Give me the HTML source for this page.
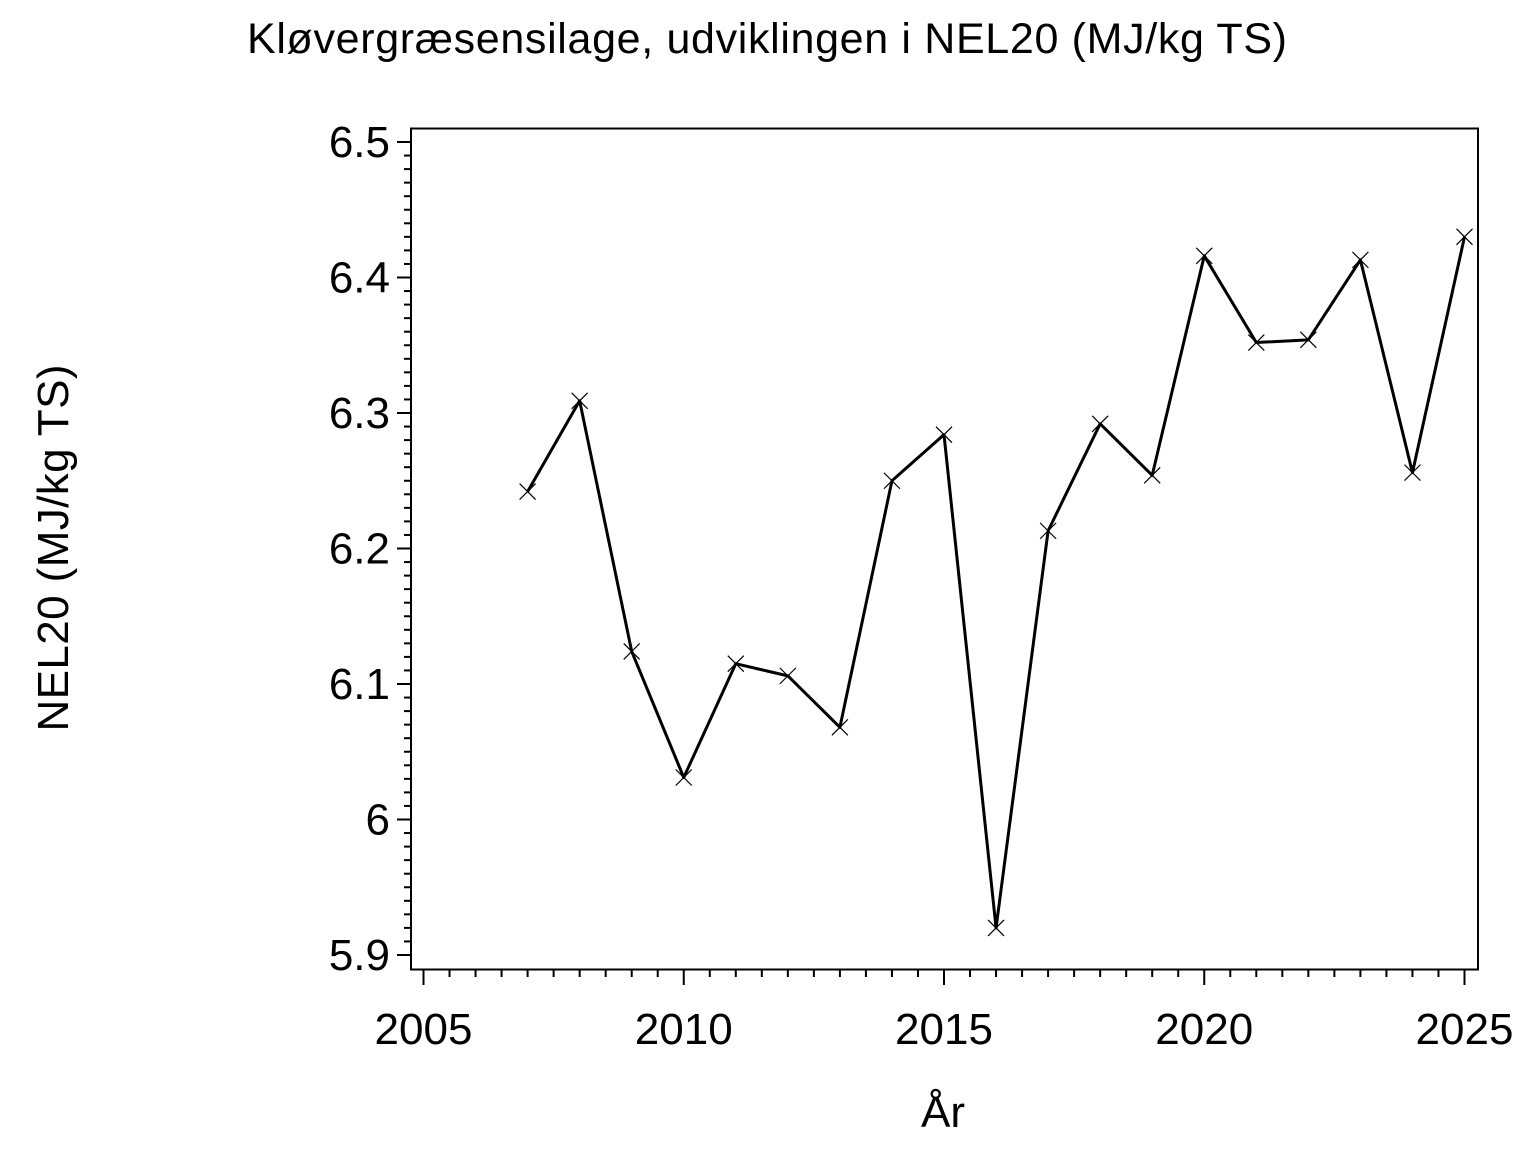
<!DOCTYPE html>
<html><head><meta charset="utf-8"><style>
html,body{margin:0;padding:0;background:#fff;}
svg{display:block;font-family:"Liberation Sans",Arial,sans-serif;}
</style></head><body>
<svg id="s" width="1536" height="1152" xmlns="http://www.w3.org/2000/svg">
<rect x="0" y="0" width="1536" height="1152" fill="#fff"/>
<text x="247" y="53" font-size="43" textLength="1040" lengthAdjust="spacing">Kløvergræsensilage,  udviklingen  i  NEL20  (MJ/kg  TS)</text>
<rect x="411" y="128.5" width="1067" height="841" fill="none" stroke="#000" stroke-width="2"/>
<g id="t" stroke="#000" stroke-width="2"></g>
<g id="l" font-size="44"></g>
<text transform="translate(68,548) rotate(-90)" font-size="44" text-anchor="middle" textLength="367" lengthAdjust="spacing">NEL20  (MJ/kg  TS)</text>
<text x="943" y="1127" font-size="44" text-anchor="middle">År</text>
<polyline id="p" fill="none" stroke="#000" stroke-width="3" stroke-linejoin="round"/>
<g id="m" stroke="#000" stroke-width="1.2"></g>
</svg>
<script>
var NS="http://www.w3.org/2000/svg";
function el(p,n,a,txt){var e=document.createElementNS(NS,n);for(var k in a)e.setAttribute(k,a[k]);if(txt!==undefined)e.textContent=txt;document.getElementById(p).appendChild(e);}
function Y(v){return 142+(6.5-v)*1355;}
function X(y){return 423.5+(y-2005)*52.05;}
for(var i=0;i<=60;i++){var v=5.9+i*0.01;var y=Y(v);var maj=i%10==0;el("t","line",{x1:maj?397:404,x2:411,y1:y,y2:y});
 if(maj){el("l","text",{x:390,y:y+15,"text-anchor":"end"},(Math.round(v*10)/10).toString());}}
for(var i=0;i<=40;i++){var yr=2005+i*0.5;var x=X(yr);var maj=i%10==0;el("t","line",{x1:x,x2:x,y1:970,y2:maj?985:977});
 if(maj){el("l","text",{x:x,y:1044,"text-anchor":"middle"},String(yr));}}
var d=[[2007,6.242],[2008,6.309],[2009,6.124],[2010,6.031],[2011,6.115],[2012,6.106],[2013,6.068],[2014,6.250],[2015,6.284],[2016,5.920],[2017,6.213],[2018,6.292],[2019,6.254],[2020,6.416],[2021,6.352],[2022,6.354],[2023,6.413],[2024,6.256],[2025,6.430]];
var pts=d.map(function(p){return X(p[0])+","+Y(p[1]);}).join(" ");
document.getElementById("p").setAttribute("points",pts);
d.forEach(function(p){var x=X(p[0]),y=Y(p[1]),s=8;el("m","line",{x1:x-s,y1:y-s,x2:x+s,y2:y+s});el("m","line",{x1:x-s,y1:y+s,x2:x+s,y2:y-s});});
</script>
</body></html>
